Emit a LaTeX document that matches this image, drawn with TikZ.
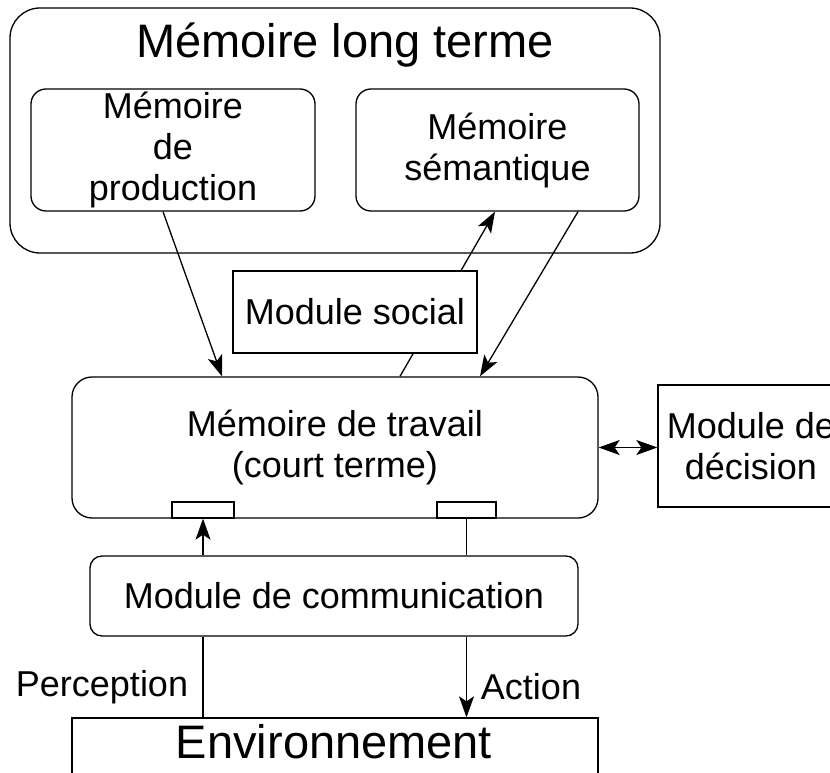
\documentclass[tikz,border=0pt]{standalone}
\usepackage{fontspec}
\setmainfont{Liberation Sans}
\usetikzlibrary{arrows.meta,calc}
\begin{document}
\begin{tikzpicture}[x=1pt,y=-1pt,
  box/.style={draw,line width=1.3pt,fill=white,inner sep=0pt,align=center,
    font=\fontsize{36}{41}\selectfont},
  rbox/.style={box,rounded corners=#1},
  txt/.style={inner sep=0pt,align=center,font=\fontsize{36}{41}\selectfont},
  big/.style={inner sep=0pt,font=\fontsize{47}{52}\selectfont},
  >={Stealth[length=21pt,width=15pt,inset=5pt]},
  arr/.style={line width=1.3pt,->},
  darr/.style={line width=1.3pt,<->},
  ln/.style={line width=1.3pt}]
\useasboundingbox (0,0) rectangle (830,773);
\clip (0,0) rectangle (830,773);
% long-term memory
\node[rbox=30pt,minimum width=650pt,minimum height=245pt] (ltm) at (335,130.5) {};
\node[big] (ltmt) at (345,45) {Mémoire long terme};
\node[rbox=15pt,minimum width=284pt,minimum height=122pt] (prod) at (173,150) {Mémoire\\de\\production};
\node[rbox=15pt,minimum width=283pt,minimum height=122pt] (sem) at (497.5,150) {Mémoire\\sémantique};
% working memory
\node[rbox=20pt,minimum width=526pt,minimum height=141pt] (wm) at (335,447.5) {Mémoire de travail\\(court terme)};
\node[box,minimum width=62pt,minimum height=16pt] (pl) at (203,510) {};
\node[box,minimum width=59pt,minimum height=16pt] (pr) at (466.5,510) {};
% arrows from long-term memory
\draw[arr] ([xshift=-10pt]prod.south) -- ([xshift=-113pt]wm.north);
\draw[arr] ([xshift=80.5pt]sem.south) -- ([xshift=145pt]wm.north);
\draw[arr] ([xshift=65pt]wm.north) -- ([xshift=-2.5pt]sem.south);
% social module (on top of the arrow)
\node[box,minimum width=244pt,minimum height=82pt] (soc) at (355,312) {Module social};
% decision
\node[box,minimum width=186pt,minimum height=122pt] (dec) at (751,446) {Module de\\décision};
\draw[darr] (wm.east) -- (wm.east -| dec.west);
% communication
\node[rbox=12pt,minimum width=488pt,minimum height=80pt] (comm) at (334,596) {Module de communication};
\draw[arr] (pl.south |- comm.north) -- (pl.south);
\draw[ln] (pr.south) -- (pr.south |- comm.north);
% environment
\node[box,minimum width=526pt,minimum height=82pt] (env) at (335,759) {};
\node[big] (envt) at (334,742) {Environnement};
\draw[ln] (pl.south |- comm.south) -- (pl.south |- env.north);
\draw[arr] (pr.south |- comm.south) -- (pr.south |- env.north);
\node[txt] (perc) at (102,687) {Perception};
\node[txt] (act) at (531,687) {Action};
\end{tikzpicture}
\end{document}
